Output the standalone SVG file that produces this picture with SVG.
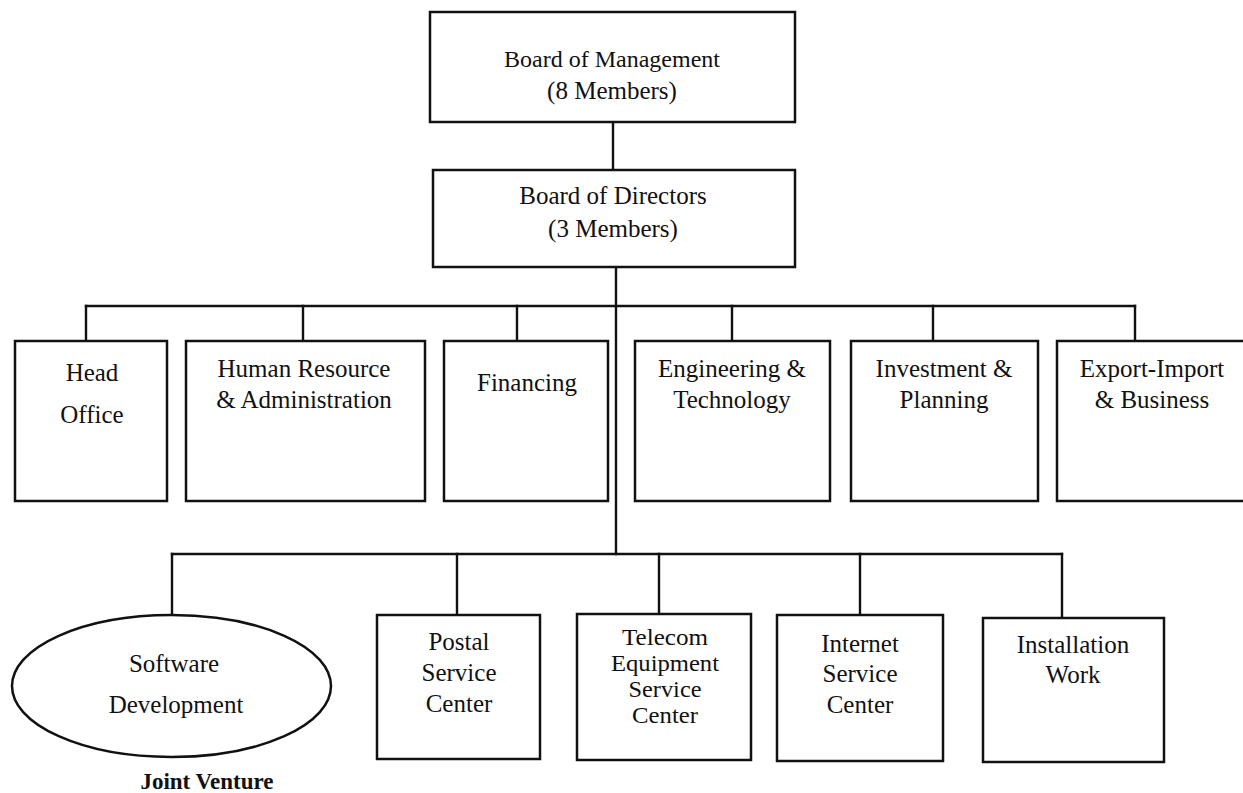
<svg xmlns="http://www.w3.org/2000/svg" width="1243" height="793" viewBox="0 0 1243 793">
  <style>
    .box { fill: #ffffff; stroke: #111111; stroke-width: 2.5; }
    .wire { fill: none; stroke: #111111; stroke-width: 2.4; stroke-linecap: square; }
    .lbl { font-family: "Liberation Serif", "Times New Roman", serif; font-size: 25px; fill: #111111; text-anchor: middle; }
    .tight { font-size: 23px; }
    .note { font-family: "Liberation Serif", "Times New Roman", serif; font-size: 23px; font-weight: bold; fill: #111111; text-anchor: middle; }
  </style>
  <rect width="1243" height="793" fill="#ffffff"/>

  <!-- connectors -->
  <g id="connectors">
    <path class="wire" d="M613 122 V170"/>
    <path class="wire" d="M616 267 V554"/>
    <!-- department bus -->
    <path class="wire" d="M86 306 H1135"/>
    <path class="wire" d="M86 306 V341 M303 306 V341 M517 306 V341 M732 306 V341 M933 306 V341 M1135 306 V341"/>
    <!-- service-center bus -->
    <path class="wire" d="M172 554 H1062"/>
    <path class="wire" d="M172 554 V615 M457 554 V615 M659 554 V614 M860 554 V615 M1062 554 V618"/>
  </g>

  <g id="board-management">
    <rect class="box" x="430" y="12" width="365" height="110"/>
    <text class="lbl" x="612" y="67" style="font-size:24px">Board of Management</text>
    <text class="lbl" x="612" y="99">(8 Members)</text>
  </g>

  <g id="board-directors">
    <rect class="box" x="433" y="170" width="362" height="97"/>
    <text class="lbl" x="613" y="204">Board of Directors</text>
    <text class="lbl" x="613" y="237">(3 Members)</text>
  </g>

  <g id="head-office">
    <rect class="box" x="15" y="341" width="152" height="160"/>
    <text class="lbl" x="92" y="381">Head</text>
    <text class="lbl" x="92" y="423">Office</text>
  </g>

  <g id="human-resource">
    <rect class="box" x="186" y="341" width="239" height="160"/>
    <text class="lbl" x="304" y="377">Human Resource</text>
    <text class="lbl" x="304" y="408">&amp; Administration</text>
  </g>

  <g id="financing">
    <rect class="box" x="444" y="341" width="164" height="160"/>
    <text class="lbl" x="527" y="391">Financing</text>
  </g>

  <g id="engineering">
    <rect class="box" x="635" y="341" width="195" height="160"/>
    <text class="lbl" x="732" y="377">Engineering &amp;</text>
    <text class="lbl" x="732" y="408">Technology</text>
  </g>

  <g id="investment">
    <rect class="box" x="851" y="341" width="187" height="160"/>
    <text class="lbl" x="944" y="377">Investment &amp;</text>
    <text class="lbl" x="944" y="408">Planning</text>
  </g>

  <g id="export-import">
    <rect class="box" x="1057" y="341" width="192" height="160"/>
    <text class="lbl" x="1152" y="377">Export-Import</text>
    <text class="lbl" x="1152" y="408">&amp; Business</text>
  </g>

  <g id="software-development">
    <ellipse class="box" cx="171.5" cy="686" rx="159.5" ry="71"/>
    <text class="lbl" x="174" y="672">Software</text>
    <text class="lbl" x="176" y="713">Development</text>
    <text class="note" x="207" y="789">Joint Venture</text>
  </g>

  <g id="postal">
    <rect class="box" x="377" y="615" width="163" height="144"/>
    <text class="lbl" x="459" y="650">Postal</text>
    <text class="lbl" x="459" y="681">Service</text>
    <text class="lbl" x="459" y="712">Center</text>
  </g>

  <g id="telecom">
    <rect class="box" x="577" y="614" width="174" height="146"/>
    <text class="lbl tight" x="665" y="645" textLength="86" lengthAdjust="spacingAndGlyphs">Telecom</text>
    <text class="lbl tight" x="665" y="671" textLength="108" lengthAdjust="spacingAndGlyphs">Equipment</text>
    <text class="lbl tight" x="665" y="697" textLength="73" lengthAdjust="spacingAndGlyphs">Service</text>
    <text class="lbl tight" x="665" y="723" textLength="66" lengthAdjust="spacingAndGlyphs">Center</text>
  </g>

  <g id="internet">
    <rect class="box" x="777" y="615" width="166" height="146"/>
    <text class="lbl" x="860" y="652">Internet</text>
    <text class="lbl" x="860" y="682">Service</text>
    <text class="lbl" x="860" y="713">Center</text>
  </g>

  <g id="installation">
    <rect class="box" x="983" y="618" width="181" height="144"/>
    <text class="lbl" x="1073" y="653">Installation</text>
    <text class="lbl" x="1073" y="683">Work</text>
  </g>
</svg>
